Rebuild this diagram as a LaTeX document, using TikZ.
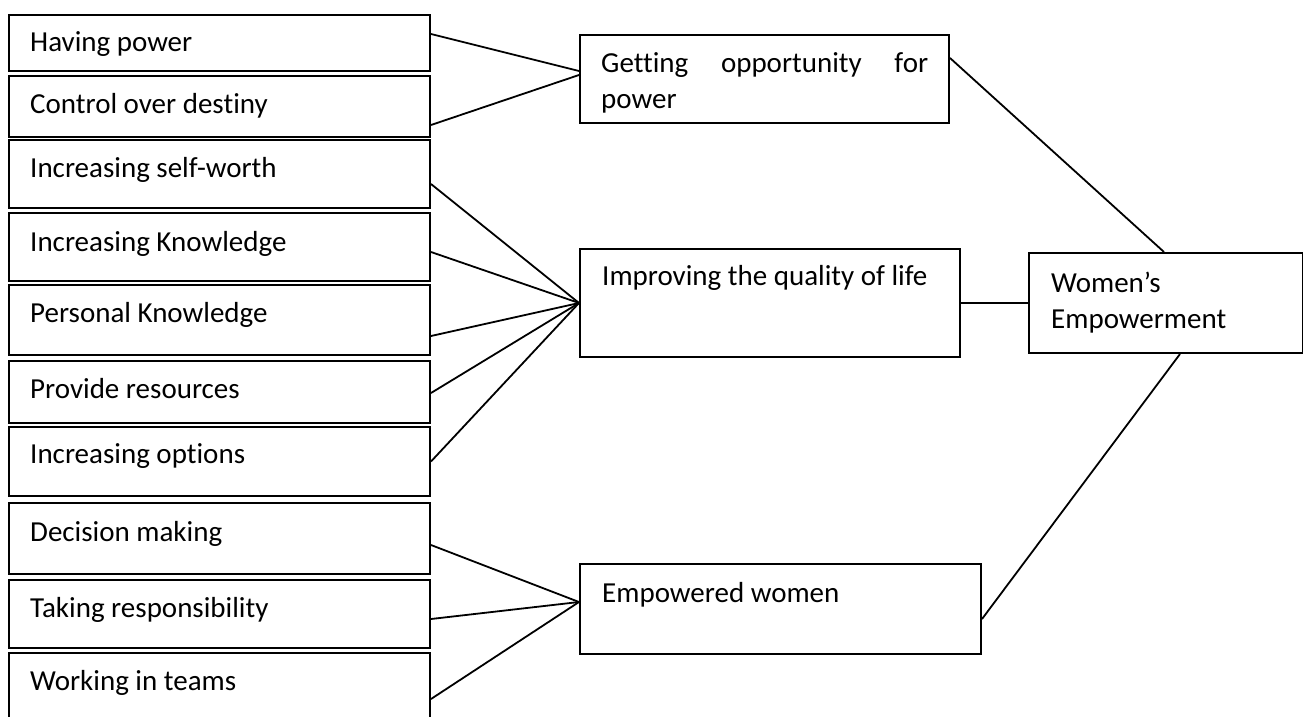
\documentclass[tikz,border=0pt]{standalone}
\usepackage{fontspec}
\setmainfont{Carlito}[Ligatures=NoCommon]
\usepackage{tikz}
\usetikzlibrary{positioning,calc}

\tikzset{
  itembox/.style={draw, line width=2pt, rectangle, inner sep=0pt, anchor=north west, minimum width=421pt},
  sumbox/.style={draw, line width=2pt, rectangle, inner sep=0pt, anchor=north west},
  itemtext/.style={anchor=base west, inner sep=0pt},
  link/.style={line width=1.8pt}
}

\begin{document}
\begin{tikzpicture}[x=1pt, y=-1pt, font=\fontsize{29}{36}\selectfont]
  \useasboundingbox (0,0) rectangle (1303,717);

  % Left column
  \node[itembox, minimum height=56pt] (b1) at (8,14) {};
  \node[itembox, minimum height=61pt] (b2) at (8,75) {};
  \node[itembox, minimum height=68pt] (b3) at (8,139) {};
  \node[itembox, minimum height=68pt] (b4) at (8,212) {};
  \node[itembox, minimum height=70pt] (b5) at (8,284) {};
  \node[itembox, minimum height=62pt] (b6) at (8,360) {};
  \node[itembox, minimum height=69pt] (b7) at (8,426) {};
  \node[itembox, minimum height=71pt] (b8) at (8,502) {};
  \node[itembox, minimum height=68pt] (b9) at (8,579) {};
  \node[itembox, minimum height=80pt] (b10) at (8,652) {};

  \node[itemtext] (t1) at (30,52) {Having power};
  \node[itemtext] (t2) at (30,113) {Control over destiny};
  \node[itemtext] (t3) at (30,177) {Increasing self-worth};
  \node[itemtext] (t4) at (30,251) {Increasing Knowledge};
  \node[itemtext] (t5) at (30,322) {Personal Knowledge};
  \node[itemtext] (t6) at (30,398) {Provide resources};
  \node[itemtext] (t7) at (30,463) {Increasing options};
  \node[itemtext] (t8) at (30,541) {Decision making};
  \node[itemtext] (t9) at (30,617) {Taking responsibility};
  \node[itemtext] (t10) at (30,690) {Working in teams};

  % Middle column
  \node[sumbox, minimum width=369pt, minimum height=88pt] (opp) at (579,34) {};
  \node[sumbox, minimum width=380pt, minimum height=108pt] (qual) at (579,248) {};
  \node[sumbox, minimum width=401pt, minimum height=90pt] (empw) at (579,563) {};
  \node[itemtext, text width=327pt, align=left] (topp) at (601,72) {Getting\hfill opportunity\hfill for\\power};
  \node[itemtext] (tqual) at (602,285) {Improving the quality of life};
  \node[itemtext] (tempw) at (602,602) {Empowered women};

  % Right
  \node[sumbox, minimum width=274pt, minimum height=100pt] (women) at (1028,252) {};
  \node[itemtext, text width=230pt, align=left] (twomen) at (1051,292) {Women’s\\Empowerment};

  % Links
  \draw[link] ([yshift=9pt]b1.east) -- ([yshift=8pt]opp.west);
  \draw[link] ([yshift=-18.5pt]b2.east) -- ([yshift=4pt]opp.west);
  \draw[link] ([yshift=-10pt]b3.east) -- (qual.west);
  \draw[link] ([yshift=-5pt]b4.east) -- (qual.west);
  \draw[link] ([yshift=-16pt]b5.east) -- (qual.west);
  \draw[link] ([yshift=-1pt]b6.east) -- (qual.west);
  \draw[link] (b7.east) -- (qual.west);
  \draw[link] ([yshift=-6.5pt]b8.east) -- ([yshift=7pt]empw.west);
  \draw[link] ([yshift=-5pt]b9.east) -- ([yshift=7pt]empw.west);
  \draw[link] ([yshift=-6pt]b10.east) -- ([yshift=7pt]empw.west);
  \draw[link] ([yshift=21pt]opp.east) -- ([xshift=-2pt]women.north);
  \draw[link] (qual.east) -- (women.west);
  \draw[link] ([yshift=-10pt]empw.east) -- ([xshift=14pt]women.south);
\end{tikzpicture}
\end{document}
